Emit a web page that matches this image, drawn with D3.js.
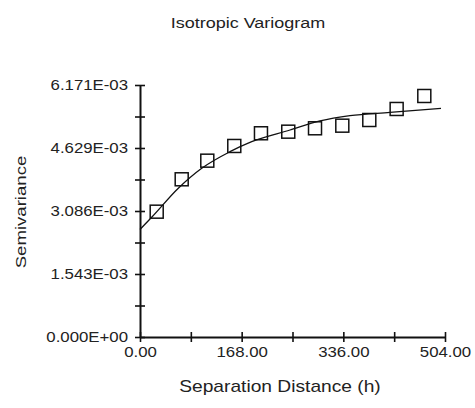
<!DOCTYPE html>
<html>
<head>
<meta charset="utf-8">
<script src="https://cdn.jsdelivr.net/npm/d3@7"></script>
<style>
    body { margin: 0; background: #fff; }
    text { font-family: "Liberation Sans", Arial, sans-serif; fill: #222; }
</style>
</head>
<body>
<svg id="chart"></svg>
<script>
// experimental semivariance (lag distance, value)
const lagDist = [27.6, 68.9, 111.2, 155.8, 199.9, 245.0, 289.2, 334.3, 378.9, 424.1, 469.8];
const semivar = [0.003069, 0.003862, 0.004318, 0.004678, 0.004989, 0.005028, 0.005111, 0.005175, 0.005314, 0.005584, 0.005902];

// fitted model
const modelDist = [0, 19.3, 63.3, 102, 148.7, 184.6, 247.9, 297.4, 347, 413, 497.4];
const modelVal = [0.002633, 0.002931, 0.003642, 0.004131, 0.004538, 0.004783, 0.005069, 0.005290, 0.005420, 0.005500, 0.005601];

const xTicks = [0, 84, 168, 252, 336, 420, 504];
const xTickLabels = ["0.00", "", "168.00", "", "336.00", "", "504.00"];
const yTicks = [0, 0.00077138, 0.0015428, 0.0023141, 0.0030855, 0.0038569, 0.0046283, 0.0053996, 0.006171];
const yTickLabels = ["0.000E+00", "", "1.543E-03", "", "3.086E-03", "", "4.629E-03", "", "6.171E-03"];

const width = 475, height = 408;
const sx = 1.2; // text is a bit wide in the original

const svg = d3.select("#chart").attr("width", width).attr("height", height);

const x = d3.scaleLinear().domain([0, 504]).range([140, 445]);
const y = d3.scaleLinear().domain([0, 0.006171]).range([337, 85]);

// title
function label(txt, px, py, size, rot) {
    return svg.append("text")
        .attr("transform", `translate(${px},${py}) rotate(${rot || 0}) scale(${sx},1)`)
        .attr("text-anchor", "middle")
        .style("font-size", size + "px")
        .text(txt);
}
label("Isotropic Variogram", 248, 28, 15);
label("Separation Distance (h)", 280, 392, 16);
label("Semivariance", 26, 212, 15.5, -90);

// axes
const xAxis = svg.append("g")
    .attr("transform", `translate(0,${y(0)})`)
    .call(d3.axisBottom(x).tickValues(xTicks).tickFormat((d, i) => xTickLabels[i]).tickSizeOuter(0));
const yAxis = svg.append("g")
    .attr("transform", `translate(${x(0)},0)`)
    .call(d3.axisLeft(y).tickValues(yTicks).tickFormat((d, i) => yTickLabels[i]).tickSizeOuter(0));

[xAxis, yAxis].forEach(a => {
    a.select(".domain").attr("stroke", "#111").attr("stroke-width", 2);
    a.selectAll(".tick line").attr("stroke", "#111").attr("stroke-width", 1.6);
    a.selectAll(".tick text").style("font-size", "14px").attr("fill", "#222");
});
xAxis.selectAll(".tick line").attr("y1", -5).attr("y2", 5);
yAxis.selectAll(".tick line").attr("x1", -5).attr("x2", 5);
xAxis.selectAll(".tick text").attr("y", 10).attr("dy", "0.71em")
    .attr("transform", `scale(${sx},1)`);
yAxis.selectAll(".tick text").attr("x", -12 / sx)
    .attr("transform", `scale(${sx},1)`);

// model curve
const modelPts = modelDist.map((d, i) => [d, modelVal[i]]);
svg.append("path")
    .datum(modelPts)
    .attr("fill", "none")
    .attr("stroke", "#111")
    .attr("stroke-width", 1.3)
    .attr("d", d3.line().x(d => x(d[0])).y(d => y(d[1])).curve(d3.curveMonotoneX));

// experimental points
const sz = 13;
svg.append("g").selectAll("rect")
    .data(lagDist.map((d, i) => [d, semivar[i]]))
    .join("rect")
    .attr("x", d => x(d[0]) - sz / 2)
    .attr("y", d => y(d[1]) - sz / 2)
    .attr("width", sz)
    .attr("height", sz)
    .attr("fill", "none")
    .attr("stroke", "#111")
    .attr("stroke-width", 1.5);
</script>
</body>
</html>
